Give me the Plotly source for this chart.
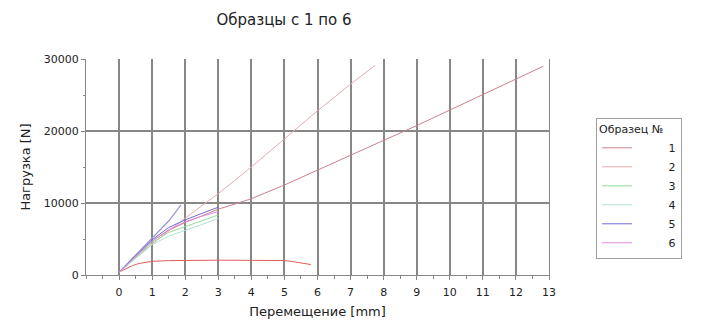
import plotly.graph_objects as go

# ---- data ----
x_flat = [0, 0.2, 0.4, 0.6, 0.8, 1, 1.5, 2, 2.5, 3, 3.5, 4, 4.5, 5, 5.2, 5.5, 5.8]
y_flat = [400, 900, 1300, 1600, 1800, 1900, 2000, 2050, 2060, 2060, 2050, 2050, 2030, 2000, 1900, 1700, 1450]

x_long = [0, 0.5, 1, 1.5, 2, 2.5, 3, 3.5, 4, 5, 6, 7, 8, 9, 10, 11, 12, 12.83]
y_long = [400, 2600, 4700, 6200, 7300, 8200, 9150, 9850, 10600, 12500, 14600, 16650, 18700, 20750, 22900, 25050, 27150, 29000]

x_mid = [0, 1, 2, 3, 4, 5, 6, 7, 7.74]
y_mid = [400, 4300, 7900, 11300, 15000, 18900, 22800, 26500, 29100]

x_steep = [0, 0.5, 1, 1.5, 1.87]
y_steep = [400, 2800, 5100, 7500, 9700]

x_short = [0, 0.5, 1, 1.5, 2, 2.5, 3]
y_s3 = [400, 2500, 4500, 5900, 6750, 7550, 8340]
y_s4 = [400, 2300, 4200, 5400, 6150, 7000, 7890]
y_s5 = [400, 2700, 4900, 6600, 7650, 8550, 9420]
y_s6 = [400, 2600, 4700, 6300, 7400, 8150, 8800]

labels = ["1", "2", "3", "4", "5", "6"]
x_ticks = list(range(0, 14))
y_ticks = [0, 10000, 20000, 30000]
y_ticktext = ["0", "10000", "20000", "30000"]

FONT = "DejaVu Sans"
pad = "\u00a0" * 9

fig = go.Figure()
# unlabeled curves
fig.add_trace(go.Scatter(x=x_flat, y=y_flat, mode="lines", line=dict(color="rgb(228,92,92)", width=1), showlegend=False))
fig.add_trace(go.Scatter(x=x_steep, y=y_steep, mode="lines", line=dict(color="rgb(150,150,205)", width=1.2), showlegend=False))
# legend series
series = [
    (x_long, y_long, "rgb(205,128,140)"),
    (x_mid, y_mid, "rgb(232,172,176)"),
    (x_short, y_s3, "rgb(150,220,150)"),
    (x_short, y_s4, "rgb(175,225,210)"),
    (x_short, y_s5, "rgb(110,110,215)"),
    (x_short, y_s6, "rgb(225,140,225)"),
]
for (xs, ys, c), lab in zip(series, labels):
    fig.add_trace(go.Scatter(x=xs, y=ys, mode="lines", name=pad + lab, line=dict(color=c, width=1)))

grid = "rgb(135,135,135)"
fig.update_layout(
    width=709, height=322,
    margin=dict(l=86, r=160, t=59, b=47, autoexpand=False),
    paper_bgcolor="white", plot_bgcolor="white",
    font=dict(family=FONT, size=12, color="#222"),
    title=dict(text="Образцы с 1 по 6", x=284 / 709, xref="container", xanchor="center",
               y=1 - 20 / 322, yref="container", yanchor="middle", automargin=False,
               font=dict(family=FONT, size=15, color="#222")),
    xaxis=dict(range=[-1, 13], tickvals=x_ticks, showgrid=True, gridcolor=grid, gridwidth=2,
               zeroline=False, showline=True, linecolor=grid, linewidth=1, automargin=False,
               ticks="outside", ticklen=4, tickcolor=grid, ticklabelstandoff=3,
               minor=dict(dtick=0.5, tick0=0, ticks="outside", ticklen=3, tickcolor=grid, showgrid=False),
               tickfont=dict(size=11, family=FONT, color="#222"),
               title=dict(text="Перемещение [mm]", font=dict(size=13, family=FONT), standoff=8)),
    yaxis=dict(range=[0, 30000], tickvals=y_ticks, ticktext=y_ticktext, showgrid=True, gridcolor=grid, gridwidth=2,
               zeroline=False, showline=True, linecolor=grid, linewidth=1, mirror=True, automargin=False,
               ticks="outside", ticklen=4, tickcolor=grid,
               minor=dict(dtick=5000, tick0=0, ticks="outside", ticklen=2, tickcolor=grid, showgrid=False),
               tickfont=dict(size=11, family=FONT, color="#222"),
               title=dict(text="Нагрузка [N]", font=dict(size=13, family=FONT), standoff=10)),
    legend=dict(x=(596 - 86) / 463, y=(275 - 118) / 216, xanchor="left", yanchor="top",
                bordercolor="rgb(160,160,160)", borderwidth=1, bgcolor="white",
                font=dict(size=11, family=FONT, color="#222"),
                title=dict(text="Образец №", font=dict(size=11, family=FONT)),
                tracegroupgap=0),
)
fig.write_html("out.html", config={"displayModeBar": False},
               post_script="document.body.style.margin='0px';")
